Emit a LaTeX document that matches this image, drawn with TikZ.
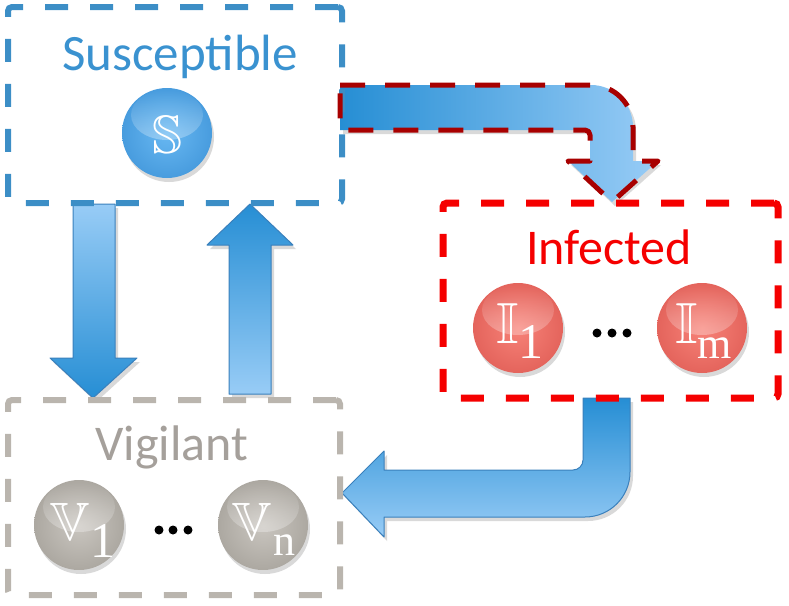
\documentclass[tikz,border=0pt]{standalone}
\usepackage{fontspec}
\usepackage{amssymb}
\newfontfamily\calib{Carlito}
\newfontfamily\tms{Liberation Serif}
\usetikzlibrary{fadings}
\definecolor{boxblue}{RGB}{60,142,198}
\definecolor{txtblue}{RGB}{58,146,208}
\definecolor{boxred}{RGB}{245,0,0}
\definecolor{dred}{RGB}{168,0,0}
\definecolor{boxgray}{RGB}{186,181,174}
\definecolor{txtgray}{RGB}{165,160,155}
\definecolor{arrdark}{RGB}{38,142,212}
\definecolor{arrlight}{RGB}{152,204,246}
\definecolor{arredge}{RGB}{58,128,188}
\definecolor{bblueIn}{RGB}{104,184,242}
\definecolor{bblueOut}{RGB}{72,156,222}
\definecolor{bredIn}{RGB}{247,130,120}
\definecolor{bredOut}{RGB}{228,100,92}
\definecolor{bgrayIn}{RGB}{202,198,192}
\definecolor{bgrayOut}{RGB}{172,168,161}
\newcommand\bbf[1]{\fontsize{#1}{#1}\usefont{U}{msb}{m}{n}}
\newcommand\drawball[5]{%
  \fill[black,opacity=0.15] ({#2+2},{#3+4}) circle[radius=45];
  \node[circle,minimum size=90pt,inner sep=0pt,shading=radial,inner color=#4,outer color=#5] (#1) at (#2,#3) {};
  \fill[white,path fading=north,fill opacity=0.3] (#2,{#3-18}) ellipse[x radius=36,y radius=25];
}
\def\pSI{(340,85) -- (591,85) arc[start angle=270,end angle=360,radius=42] -- (633,161) -- (658,161) -- (612,202) -- (568,161) -- (590,161) -- (590,135) arc[start angle=0,end angle=-90,radius=5] -- (340,130) -- cycle}
\def\pIV{(583,398) -- (630,398) -- (630,472) arc[start angle=0,end angle=90,radius=45] -- (384,517) -- (384,537) -- (342,493) -- (384,451) -- (384,470) -- (573,470) arc[start angle=90,end angle=0,radius=10] -- cycle}
\def\pSV{(73,204) -- (115,204) -- (115,358) -- (137,358) -- (93,398) -- (50,358) -- (73,358) -- cycle}
\def\pVS{(229,394) -- (229,245) -- (207,245) -- (250,204) -- (293,245) -- (271,245) -- (271,394) -- cycle}
\tikzset{
  grpbox/.style={draw=#1,line width=6pt,dash pattern=on 23pt off 22pt,rounded corners=4pt,inner sep=0pt},
  arrshadow/.style={fill=black,opacity=0.15},
  arredgeline/.style={draw=arredge,line width=1pt,line join=round},
  title/.style={font=\calib\fontsize{51}{51}\selectfont,anchor=base,inner sep=0pt},
  glyph/.style={text=white,anchor=base,inner sep=0pt},
  dots/.style={fill=black}
}
\begin{document}
\begin{tikzpicture}[x=1pt,y=-1pt]
\useasboundingbox (0,0) rectangle (789,605);
% arrow shadows
\fill[arrshadow,shift={(3,4)}] \pSV;
\fill[arrshadow,shift={(3,4)}] \pVS;
\fill[arrshadow,shift={(3,4)}] \pIV;
\fill[arrshadow,shift={(3,4)}] \pSI;
% arrows
\shade[top color=arrlight,bottom color=arrdark] \pSV;
\draw[arredgeline] \pSV;
\shade[top color=arrdark,bottom color=arrlight] \pVS;
\draw[arredgeline] \pVS;
\shade[top color=arrdark,bottom color=arrlight] \pIV;
\draw[arredgeline] \pIV;
\shade[left color=arrdark,right color=arrlight] \pSI;
% boxes
\node[grpbox=boxblue,minimum width=334pt,minimum height=196pt] (Sbox) at (175,105) {};
\node[grpbox=boxred,line width=7pt,minimum width=335pt,minimum height=195pt] (Ibox) at (610.5,300.5) {};
\node[grpbox=boxgray,minimum width=332pt,minimum height=195pt] (Vbox) at (174,497.5) {};
% dashed outline of S->I arrow
\draw[dred,line width=5pt,dash pattern=on 25pt off 20pt,line join=round] \pSI;
% titles
\node[title,text=txtblue] (Slabel) at (180,70) {Susceptible};
\node[title,text=boxred,font=\calib\fontsize{50}{50}\selectfont] (Ilabel) at (609,264) {Infected};
\node[title,text=txtgray,font=\calib\fontsize{50}{50}\selectfont] (Vlabel) at (172,460) {Vigilant};
% balls
\drawball{Sball}{167}{133}{bblueIn}{bblueOut}
\drawball{Iball1}{518}{328}{bredIn}{bredOut}
\drawball{Iballm}{702}{328}{bredIn}{bredOut}
\drawball{Vball1}{79}{525}{bgrayIn}{bgrayOut}
\drawball{Vballn}{263}{525}{bgrayIn}{bgrayOut}
% glyphs
\node[glyph] (Sg) at (167,153) {\bbf{54}S};
\node[glyph] (I1g) at (508,343) {\bbf{58}I};
\node[glyph,font=\tms\fontsize{50}{50}\selectfont] (I1s) at (531,358) {1};
\node[glyph] (Img) at (687,343) {\bbf{58}I};
\node[glyph,font=\tms\fontsize{44}{44}\selectfont] (Ims) at (715,358) {m};
\node[glyph] (V1g) at (70,540) {\bbf{54}V};
\node[glyph,font=\tms\fontsize{50}{50}\selectfont] (V1s) at (103,557) {1};
\node[glyph] (Vng) at (252,540) {\bbf{54}V};
\node[glyph,font=\tms\fontsize{44}{44}\selectfont] (Vns) at (284,555) {n};
% ellipses
\foreach \xx [count=\k] in {597,612,627} \fill[dots] (\xx,333) circle[radius=4.5] node[inner sep=0pt] (Idot\k) {};
\foreach \xx [count=\k] in {159,173,188} \fill[dots] (\xx,530) circle[radius=4.5] node[inner sep=0pt] (Vdot\k) {};
\end{tikzpicture}
\end{document}
